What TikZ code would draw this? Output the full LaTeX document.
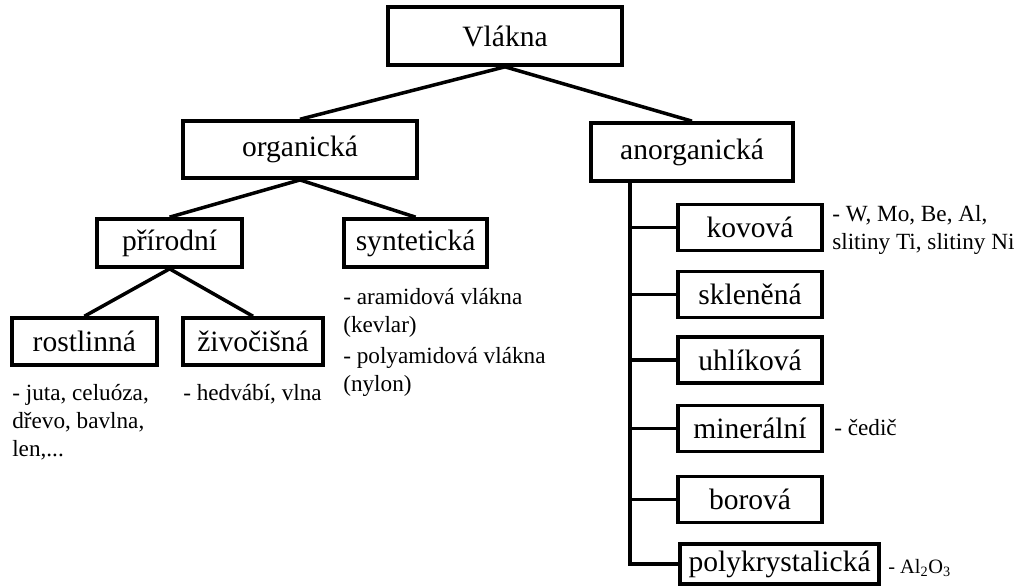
\documentclass[tikz,border=0pt]{standalone}
\usepackage{fontspec}
\setmainfont{Liberation Serif}
\usetikzlibrary{positioning,calc}

\begin{document}
\begin{tikzpicture}[
		box/.style={draw, rectangle, line width=2.6pt, inner sep=0pt, align=center, font=\fontsize{21}{25}\selectfont},
		note/.style={inner sep=0pt, align=left, font=\fontsize{16.5}{20}\selectfont},
		line/.style={line width=2.5pt}
		]
		\useasboundingbox (0,0) rectangle (25.45,-14.675);
		
		% ======================
		% TOP LEVELS
		% ======================
		\node[box, minimum width=5.85cm, minimum height=1.45cm] (vlakna) at (12.625,-0.9) {Vlákna};
		
		\node[box, minimum width=5.85cm, minimum height=1.425cm] (organicka) at (7.5,-3.74) {organická};
		
		\node[box, minimum width=5.05cm, minimum height=1.45cm] (anorganicka) at (17.3,-3.8) {anorganická};
		
		% ======================
		% LEFT SIDE
		% ======================
		\node[box, minimum width=3.625cm, minimum height=1.2cm] (prirodni) at (4.24,-6.075) {přírodní};
		
		\node[box, minimum width=3.575cm, minimum height=1.2cm] (synteticka) at (10.39,-6.075) {syntetická};
		
		\node[box, minimum width=3.625cm, minimum height=1.175cm] (rostlinna) at (2.11,-8.54) {rostlinná};
		
		\node[box, minimum width=3.5cm, minimum height=1.175cm] (zivocisna) at (6.325,-8.54) {živočišná};
		
		\node[note, anchor=north west] (rostlinnatxt) at (0.3,-9.6) {- juta, celuóza,\\dřevo, bavlna,\\len,...};
		
		\node[note, anchor=north west] (zivocisnatxt) at (4.575,-9.6) {- hedvábí, vlna};
		
		\node[note, anchor=north west] (syntetickatxt) at (8.575,-7.2)
		{- aramidová vlákna\\(kevlar)\\[2pt]- polyamidová vlákna\\(nylon)};
		
		% ======================
		% RIGHT SIDE
		% ======================
		\node[box, minimum width=3.6cm, minimum height=1.15cm] (kovova) at (18.75,-5.69) {kovová};
		
		\node[box, minimum width=3.6cm, minimum height=1.15cm] (sklenena) at (18.75,-7.36) {skleněná};
		
		\node[box, minimum width=3.6cm, minimum height=1.15cm] (uhlikova) at (18.75,-9.0) {uhlíková};
		
		\node[box, minimum width=3.6cm, minimum height=1.15cm] (mineralni) at (18.75,-10.71) {minerální};
		
		\node[box, minimum width=3.6cm, minimum height=1.15cm] (borova) at (18.75,-12.49) {borová};
		
		\node[box, minimum width=4.975cm, minimum height=1.0cm] (polykrystalicka) at (19.49,-14.1) {polykrystalická};
		
		\node[note, anchor=north west] (kovovatxt) at (20.8,-5.13) {- W, Mo, Be, Al,\\slitiny Ti, slitiny Ni};
		
		\node[note, anchor=west] (mineralnitxt) at (20.85,-10.68) {- čedič};
		
		\node[note, anchor=west, font=\fontsize{14.5}{17}\selectfont] (polytxt) at (22.2,-14.2) {- Al\textsubscript{2}O\textsubscript{3}};
		
		% ======================
		% CONNECTIONS
		% ======================
		\draw[line] (vlakna.south) -- (organicka.north);
		\draw[line] (vlakna.south) -- (anorganicka.north);
		\draw[line] (organicka.south) -- (prirodni.north);
		\draw[line] (organicka.south) -- (synteticka.north);
		\draw[line] (prirodni.south) -- (rostlinna.north);
		\draw[line] (prirodni.south) -- (zivocisna.north);
		
		\coordinate (trunk) at (15.75,-3.8);
		\draw[line] (trunk |- anorganicka.south) |- (polykrystalicka.west);
		\foreach \n in {kovova,sklenena,uhlikova,mineralni,borova}
		\draw[line] (trunk |- \n.west) -- (\n.west);
		
	\end{tikzpicture}
\end{document}
